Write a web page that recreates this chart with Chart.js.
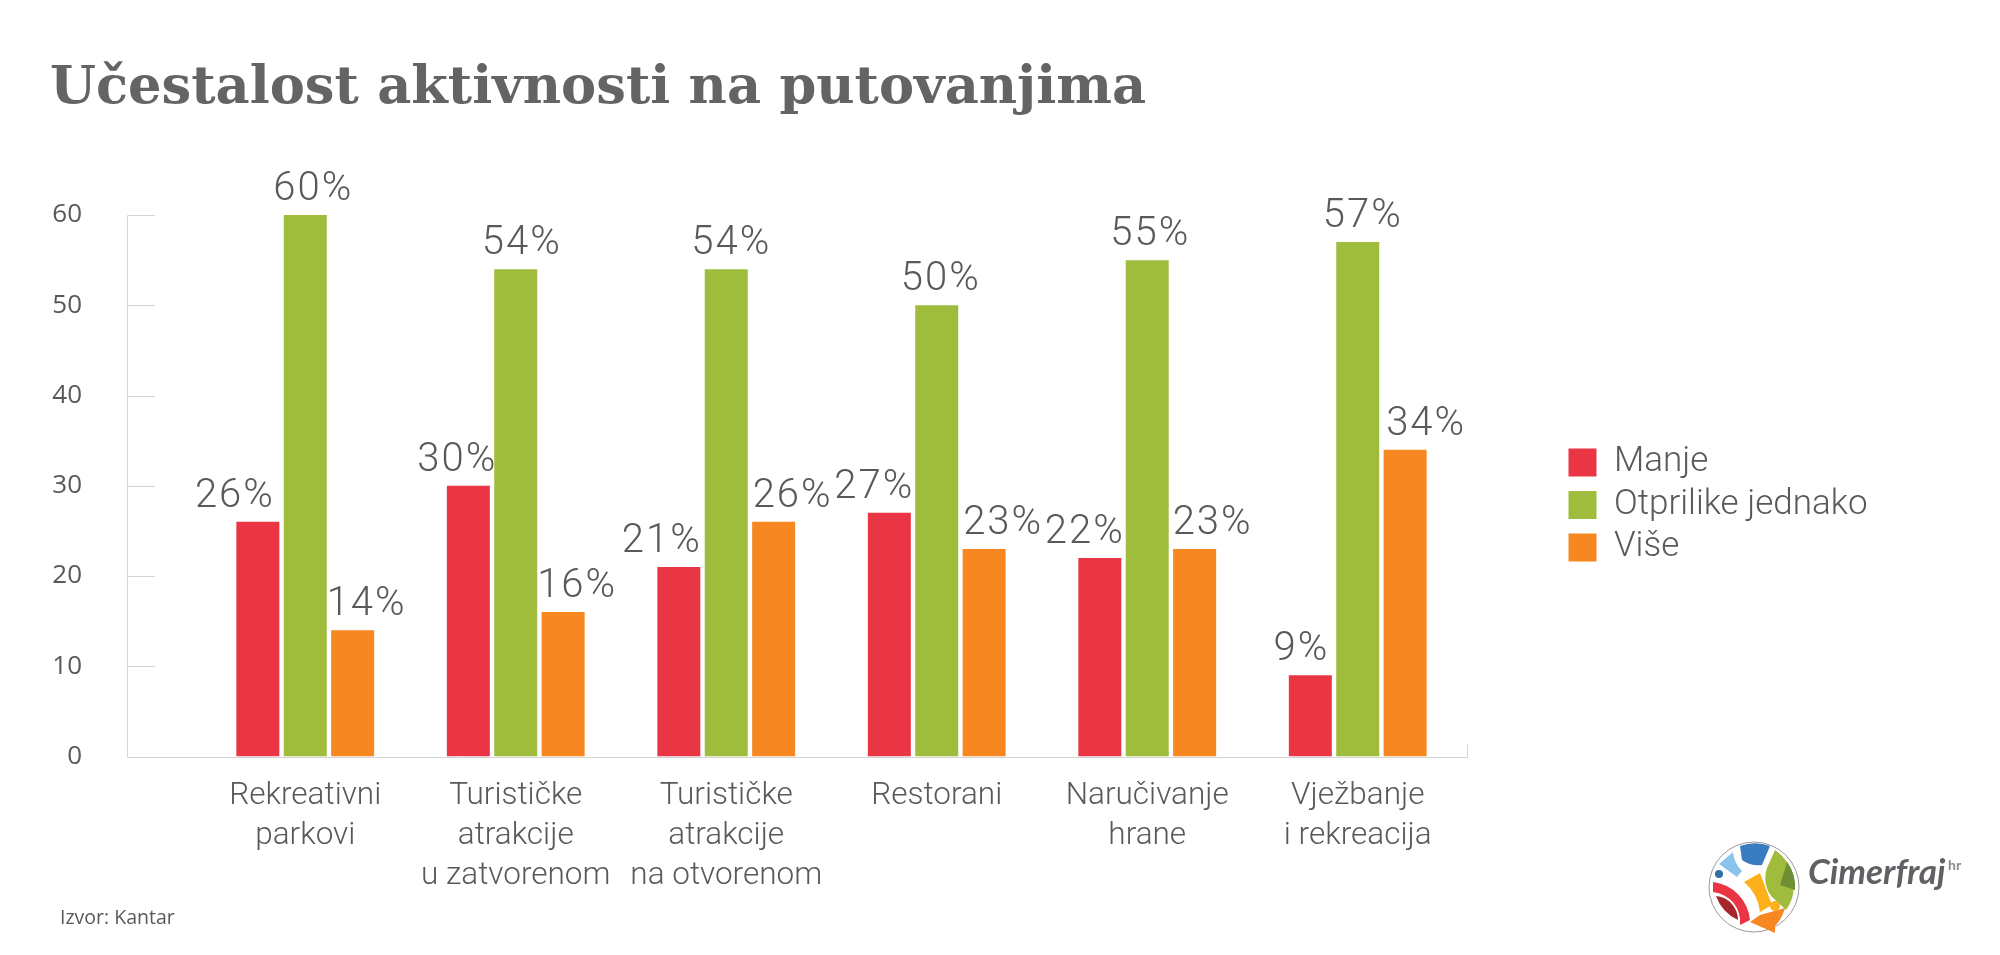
<!DOCTYPE html>
<html>
<head>
<meta charset="utf-8">
<title>Učestalost aktivnosti na putovanjima</title>
<script src="https://cdn.jsdelivr.net/npm/chart.js@4/dist/chart.umd.min.js"></script>
<style>
  body { margin: 0; background: #fff; }
  #wrap { position: relative; width: 2000px; height: 955px; }
  #logo { position: absolute; left: 1690px; top: 830px; }
  #source { position: absolute; left: 60px; top: 903px; font: 19.5px "Open Sans"; color: #58595b; }
</style>
</head>
<body>
<div id="wrap">
<canvas id="travel_chart" width="2000" height="955"></canvas>
<div id="source">Izvor: Kantar</div>
<svg id="logo" width="300" height="125" viewBox="1690 830 300 125">
  <circle cx="1754" cy="887" r="45" fill="#fff" stroke="#999" stroke-width="1"/>
  <path d="M1740 846 A 42 42 0 0 1 1770 846 L 1762 865 A 28 28 0 0 1 1742 860 Z" fill="#3a7cc0"/>
  <path d="M1733 852 L 1719 864 L 1737 877 L 1742 871 A 30 30 0 0 1 1733 852 Z" fill="#8ac4ec"/>
  <path d="M1775 850 A 42 42 0 0 1 1786 910 L 1772 897 A 30 30 0 0 1 1767 868 Z" fill="#a0bc3d"/>
  <path d="M1787 862 A 40 40 0 0 1 1795 890 L 1780 885 Z" fill="#6f8f35"/>
  <circle cx="1780" cy="868" r="5" fill="#a0bc3d"/>
  <path d="M1713 882 A 42 42 0 0 1 1750 920 L 1740 925 A 30 30 0 0 0 1713 892 Z" fill="#ea3544"/>
  <path d="M1716 896 A 24 24 0 0 1 1738 920 A 42 42 0 0 1 1716 896 Z" fill="#a6262c"/>
  <path d="M1744 882 L 1760 873 L 1772 905 L 1760 912 A 45 45 0 0 0 1744 882 Z" fill="#fdb01b"/>
  <path d="M1750 922 L 1760 915 L 1785 908 A 42 42 0 0 1 1775 926 L 1775 933 Z" fill="#f78721"/>
  <circle cx="1775" cy="906" r="5" fill="#fdb01b"/>
  <circle cx="1719" cy="874" r="4" fill="#2f6ea8"/>
  <text x="1808" y="884" font-family="Lato" font-style="italic" font-weight="700" font-size="35" fill="#606164">Cimerfraj</text>
  <text x="1948" y="870" font-family="Lato" font-weight="700" font-size="14" fill="#888">hr</text>
</svg>
</div>
<script>
// data
var categories = [
  ["Rekreativni", "parkovi"],
  ["Turističke", "atrakcije", "u zatvorenom"],
  ["Turističke", "atrakcije", "na otvorenom"],
  ["Restorani"],
  ["Naručivanje", "hrane"],
  ["Vježbanje", "i rekreacija"]
];
var manje = [26, 30, 21, 27, 22, 9];
var jednako = [60, 54, 54, 50, 55, 57];
var vise = [14, 16, 26, 23, 23, 34];
var seriesNames = ["Manje", "Otprilike jednako", "Više"];
var yTicks = [0, 10, 20, 30, 40, 50, 60];

var colors = ["#ea3544", "#a0bc3d", "#f78721"];
var textColor = "#58595b";
var axisColor = "#d4d4d4";
// the value labels sit off-centre in the original, px per series/category
var labelShift = [
  [-23, -11, -17, -15, -15, -9],
  [8, 6, 5, 4, 3, 5],
  [14, 14, 19, 19, 18, 21]
];

// axis lines run past the plot area on both sides
var axisPlugin = {
  id: "axisLines",
  beforeDatasetsDraw: function(chart) {
    var ctx = chart.ctx, y = chart.scales.y;
    var left = 127.5, right = 1467.5, bottom = Math.round(y.getPixelForValue(0)) + 0.5;
    ctx.save();
    ctx.strokeStyle = axisColor;
    ctx.lineWidth = 1;
    ctx.beginPath();
    ctx.moveTo(left, Math.round(y.getPixelForValue(60)) + 0.5);
    ctx.lineTo(left, bottom);
    ctx.lineTo(right, bottom);
    ctx.moveTo(right, bottom);
    ctx.lineTo(right, bottom - 14);
    yTicks.forEach(function(v) {
      var py = Math.round(y.getPixelForValue(v)) + 0.5;
      ctx.moveTo(left, py);
      ctx.lineTo(155, py);
    });
    ctx.stroke();
    ctx.restore();
  }
};

var valueLabels = {
  id: "valueLabels",
  afterDatasetsDraw: function(chart) {
    var ctx = chart.ctx;
    ctx.save();
    ctx.font = "300 40px Roboto";
    ctx.letterSpacing = "2px";
    ctx.fillStyle = textColor;
    ctx.textAlign = "center";
    ctx.textBaseline = "alphabetic";
    chart.data.datasets.forEach(function(ds, i) {
      chart.getDatasetMeta(i).data.forEach(function(bar, j) {
        ctx.fillText(ds.data[j] + "%", bar.x + labelShift[i][j], bar.y - 15);
      });
    });
    ctx.restore();
  }
};

// legend goes to the right of the plot, away from where the layout puts it
// y scale box is widened so its tick labels do not get clipped at the left
var legendMove = {
  id: "legendMove",
  afterLayout: function(chart) {
    var w = chart.legend.width;
    chart.legend.left = 1561;
    chart.legend.right = 1561 + w;
    chart.legend.top = 437.5;
    chart.legend.bottom = 600;
    chart.scales.y.left = 0;
  }
};

var ctx = document.getElementById("travel_chart");
var chart = new Chart(ctx, {
  type: "bar",
  data: {
    labels: categories,
    datasets: [
      { label: seriesNames[0], data: manje, backgroundColor: colors[0] },
      { label: seriesNames[1], data: jednako, backgroundColor: colors[1] },
      { label: seriesNames[2], data: vise, backgroundColor: colors[2] }
    ]
  },
  options: {
    responsive: false,
    animation: false,
    categoryPercentage: 0.6755,
    barPercentage: 0.907,
    layout: { padding: { left: 50, right: 220.5, top: 0, bottom: 0 } },
    plugins: {
      title: {
        display: true,
        text: "Učestalost aktivnosti na putovanjima",
        align: "start",
        color: "#636466",
        font: { family: "DejaVu Serif", weight: "bold", size: 52.7 },
        padding: { top: 57.5, bottom: 94.3 }
      },
      legend: {
        position: "right",
        align: "start",
        labels: {
          boxWidth: 28,
          boxHeight: 28,
          padding: 7.5,
          color: textColor,
          font: { family: "Roboto", weight: 300, size: 35 }
        }
      },
      tooltip: { enabled: false }
    },
    scales: {
      x: {
        grid: { display: false },
        border: { display: false },
        afterFit: function(s) { s.height = 198.5; },
        ticks: {
          autoSkip: false,
          maxRotation: 0,
          padding: 12,
          color: textColor,
          font: { family: "Roboto", weight: 300, size: 31.5, lineHeight: 1.27 }
        }
      },
      y: {
        min: 0,
        max: 60,
        grid: { display: false },
        border: { display: false },
        afterFit: function(s) { s.width = 150; },
        ticks: {
          stepSize: 10,
          padding: 110,
          color: textColor,
          font: { family: "Open Sans", size: 26 }
        }
      }
    }
  },
  plugins: [axisPlugin, valueLabels, legendMove]
});
</script>
</body>
</html>
